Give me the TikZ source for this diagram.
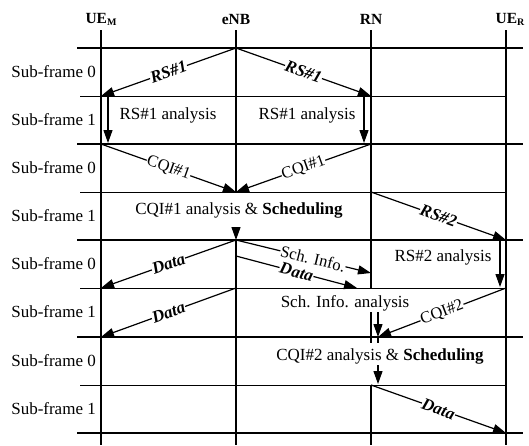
\documentclass[tikz,border=0pt]{standalone}
\usepackage{fontspec}
\setmainfont{Liberation Serif}
\usetikzlibrary{arrows.meta}
\begin{document}
\begin{tikzpicture}[x=1pt,y=-1pt,
  life/.style={line width=1.4pt},
  thickrow/.style={line width=1.8pt},
  thinrow/.style={line width=0.6pt},
  msg/.style={line width=1.2pt,-{Triangle[length=13pt,width=9pt]}},
  lbl/.style={fill=white,inner sep=0.5pt,sloped,font=\fontsize{16.5}{16.5}\selectfont},
  blbl/.style={lbl,font=\fontsize{17}{17}\selectfont\bfseries\itshape},
  txt/.style={font=\fontsize{17}{17}\selectfont,inner sep=0pt,anchor=base},
  sf/.style={font=\fontsize{17}{17}\selectfont,inner sep=0pt,anchor=east},
  hdr/.style={font=\fontsize{15.5}{15.5}\selectfont\bfseries,inner sep=0pt},
]
\useasboundingbox (0,0) rectangle (529,445);
\fill[white] (0,0) rectangle (529,445);

% headers
\node[hdr] (hM) at (101,19) {UE\raisebox{-0.3ex}{\fontsize{10}{10}\selectfont M}};
\node[hdr] (hE) at (236,19) {eNB};
\node[hdr] (hR) at (371,19) {RN};
\node[hdr] (hU) at (510,19) {UE\raisebox{-0.3ex}{\fontsize{10}{10}\selectfont R}};

% rows
\foreach \y in {48,144,240,337,433} \draw[thickrow] (77,\y) -- (523,\y);
\foreach \y in {96,192,288,385} \draw[thinrow] (80,\y) -- (506,\y);

% sub-frame labels
\foreach \y/\t in {72/0,120/1,168/0,216/1,264/0,312/1,361/0,409/1}
  \node[sf] at (96,\y) {Sub-frame \t};

% lifelines
\draw[life] (101,30) -- (101,445);
\draw[life] (236,30) -- (236,192);
\draw[life] (236,240) -- (236,445);
\draw[life] (371,30) -- (371,288);
\draw[life] (371,312) -- (371,343);
\draw[life] (371,385) -- (371,445);
\draw[life] (506,30) -- (506,445);

% coordinates
\coordinate (E0) at (236,48);
\coordinate (M1) at (101,96);
\coordinate (R1) at (371,96);
\coordinate (M1a) at (108,97);
\coordinate (M2a) at (108,143);
\coordinate (R1a) at (364,97);
\coordinate (R2a) at (364,143);
\coordinate (M2) at (101,144);
\coordinate (R2) at (371,144);
\coordinate (E3) at (236,192);
\coordinate (E3b) at (236,227);
\coordinate (E4) at (236,240);
\coordinate (R3) at (371,192);
\coordinate (U4) at (506,240);
\coordinate (U4a) at (500,241);
\coordinate (U5a) at (500,287);
\coordinate (M5) at (101,288);
\coordinate (E4b) at (236,256);
\coordinate (RS) at (371,273);
\coordinate (RD) at (357,288);
\coordinate (E5) at (236,288);
\coordinate (M6) at (101,337);
\coordinate (U5) at (506,288);
\coordinate (X6) at (378,337);
\coordinate (X5) at (378,312);
\coordinate (X6b) at (378,343);
\coordinate (X7) at (378,365);
\coordinate (X7b) at (378,384);
\coordinate (R7) at (371,385);
\coordinate (U8) at (506,433);

% messages
\draw[msg] (E0) -- node[blbl] {RS\#1} (M1);
\draw[msg] (E0) -- node[blbl] {RS\#1} (R1);
\draw[msg] (M1a) -- (M2a);
\draw[msg] (R1a) -- (R2a);
\draw[msg] (M2) -- node[lbl] {CQI\#1} (E3);
\draw[msg] (R2) -- node[lbl] {CQI\#1} (E3);
\draw[msg] (E3b) -- (E4);
\draw[msg] (R3) -- node[blbl] {RS\#2} (U4);
\draw[msg] (U4a) -- (U5a);
\draw[msg] (E4) -- node[blbl] {Data} (M5);
\draw[msg] (E4) -- node[lbl,pos=0.57] {Sch. Info.} (RS);
\draw[msg] (E4b) -- node[blbl] {Data} (RD);
\draw[msg] (E5) -- node[blbl] {Data} (M6);
\draw[msg] (U5) -- node[lbl] {CQI\#2} (X6);
\draw[msg] (X5) -- (X6);
\draw[line width=1.2pt] (X6) -- (X6b);
\draw[msg] (X7) -- (X7b);
\draw[msg] (R7) -- node[blbl] {Data} (U8);

% analysis texts
\node[txt] (t1) at (168,119) {RS\#1 analysis};
\node[txt] (t2) at (307,119) {RS\#1 analysis};
\node[txt] (t3) at (239,214) {CQI\#1 analysis \& \textbf{Scheduling}};
\node[txt] (t4) at (443,261) {RS\#2 analysis};
\node[txt] (t5) at (345,307) {Sch. Info. analysis};
\node[txt] (t6) at (380,360) {CQI\#2 analysis \& \textbf{Scheduling}};
\end{tikzpicture}
\end{document}
